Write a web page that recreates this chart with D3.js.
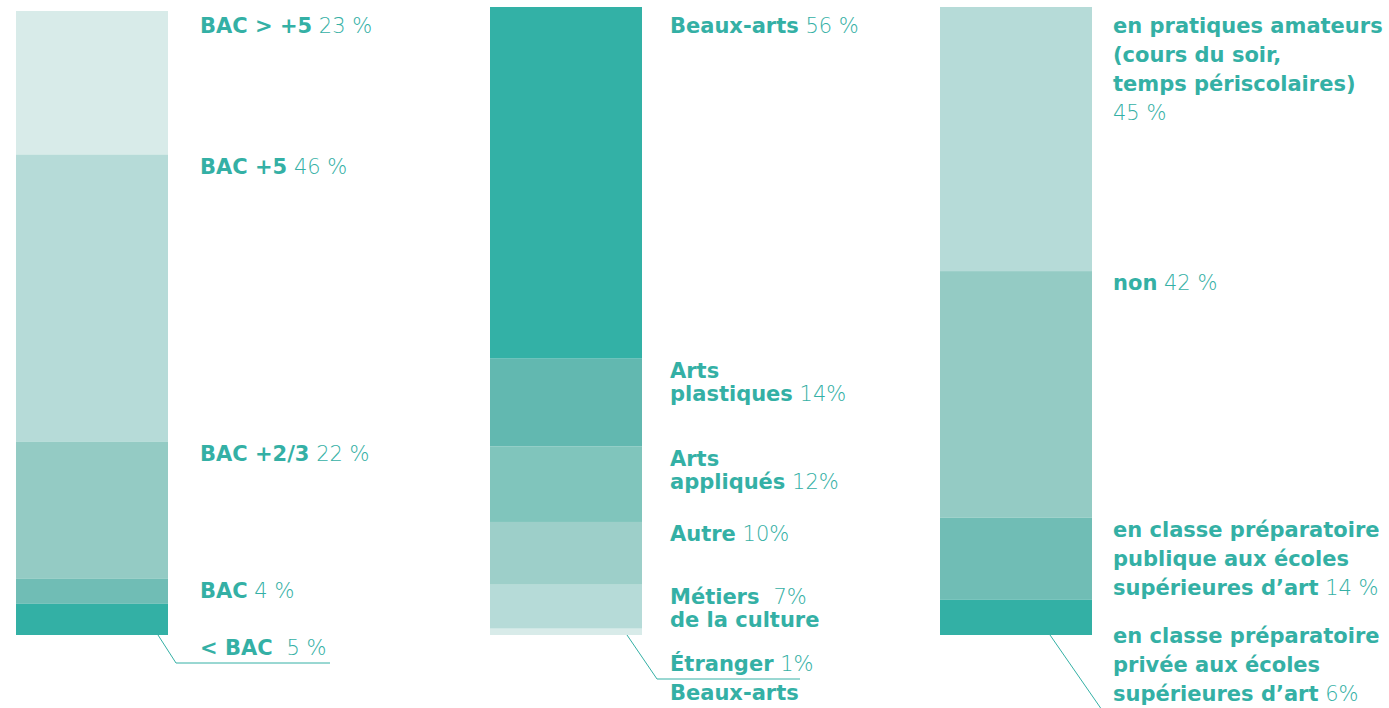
<!DOCTYPE html>
<html>
<head>
<meta charset="utf-8">
<script src="https://cdn.jsdelivr.net/npm/d3@7"></script>
<style>
  body { margin: 0; background: #fff; }
  text { font-family: "DejaVu Sans", sans-serif; font-size: 21px; fill: #34b0a5; white-space: pre; }
  .lbl { font-weight: bold; }
  .val { font-weight: 200; }
</style>
</head>
<body>
<svg id="chart" width="1389" height="708"></svg>
<script>
// niveau d'études
var bacLabels = [["BAC > +5"], ["BAC +5"], ["BAC +2/3"], ["BAC"], ["< BAC "]];
var bacValues = [23, 46, 22, 4, 5];
var bacValueText = ["23 %", "46 %", "22 %", "4 %", "5 %"];
var bacColors = ["#d8ebe9", "#b6dbd8", "#94cbc4", "#70bdb5", "#33b0a5"];

// formation
var formLabels = [["Beaux-arts"], ["Arts", "plastiques"], ["Arts", "appliqués"], ["Autre"], ["Métiers ", "de la culture"], ["Étranger", "Beaux-arts"]];
var formValues = [56, 14, 12, 10, 7, 1];
var formValueText = ["56 %", "14%", "12%", "10%", "7%", "1%"];
var formValueLine = [0, 1, 1, 0, 0, 0]; // ligne qui porte le pourcentage
var formColors = ["#33b1a6", "#62b8b0", "#80c5bc", "#9dcfc9", "#b6dbd8", "#d8ebe9"];

// préparation
var prepLabels = [
    ["en pratiques amateurs", "(cours du soir,", "temps périscolaires)", ""],
    ["non"],
    ["en classe préparatoire", "publique aux écoles", "supérieures d’art"],
    ["en classe préparatoire", "privée aux écoles", "supérieures d’art"]
];
var prepValues = [45, 42, 14, 6];
var prepValueText = ["45 %", "42 %", "14 %", "6%"];
var prepValueLine = [3, 0, 2, 2];
var prepColors = ["#b6dbd8", "#94cbc4", "#70bdb5", "#33b0a5"];

var svg = d3.select('#chart');
var barW = 152, bottom = 635;

var bars = [
    { x: 16, top: 11, labelX: 200, lineH: 23, labels: bacLabels, values: bacValues, texts: bacValueText,
      valueLine: bacValues.map(() => 0), colors: bacColors,
      leader: { x0: 158, x1: 176, y1: 663, x2: 330, base: 655 } },
    { x: 490, top: 7, labelX: 670, lineH: 23, labels: formLabels, values: formValues, texts: formValueText,
      valueLine: formValueLine, colors: formColors,
      leader: { x0: 627, x1: 657, y1: 679, x2: 800, base: 671, lineH: 29 } },
    { x: 940, top: 7, labelX: 1113, lineH: 29, labels: prepLabels, values: prepValues, texts: prepValueText,
      valueLine: prepValueLine, colors: prepColors,
      leader: { x0: 1050, x1: 1102, y1: 710, x2: null, base: 643 } }
];

bars.forEach(function(b) {
    var total = d3.sum(b.values);
    var y = d3.scaleLinear().domain([0, total]).range([bottom, b.top]);
    var ends = d3.cumsum(b.values);
    // y0 = haut du segment en valeur cumulée depuis le bas
    var segs = b.values.map((v, i) => ({ i: i, v: v, y0: total - ends[i] + v, y1: total - ends[i] }));

    var g = svg.append('g');
    g.selectAll('rect')
        .data(segs)
        .enter()
        .append('rect')
        .attr('x', b.x)
        .attr('width', barW)
        .attr('y', (d) => y(d.y0))
        .attr('height', (d) => y(d.y1) - y(d.y0))
        .style('fill', (d) => b.colors[d.i]);

    var last = segs.length - 1;
    segs.forEach(function(d) {
        var base, lh = b.lineH;
        if (d.i === last) {
            base = b.leader.base;
            if (b.leader.lineH) lh = b.leader.lineH;
        } else {
            base = Math.max(y(d.y0) + 19, 33);
        }
        b.labels[d.i].forEach(function(line, k) {
            var t = g.append('text')
                .attr('x', b.labelX)
                .attr('y', base + k * lh);
            t.append('tspan').attr('class', 'lbl').text(line);
            if (k === b.valueLine[d.i]) {
                t.append('tspan').attr('class', 'val').text((line ? ' ' : '') + b.texts[d.i]);
            }
        });
    });

    // trait de rappel pour le dernier segment
    var pts = [[b.leader.x0, bottom], [b.leader.x1, b.leader.y1]];
    if (b.leader.x2) pts.push([b.leader.x2, b.leader.y1]);
    g.append('path')
        .attr('d', d3.line()(pts))
        .style('fill', 'none')
        .style('stroke', '#34b0a5')
        .style('stroke-width', 1);
});
</script>
</body>
</html>
